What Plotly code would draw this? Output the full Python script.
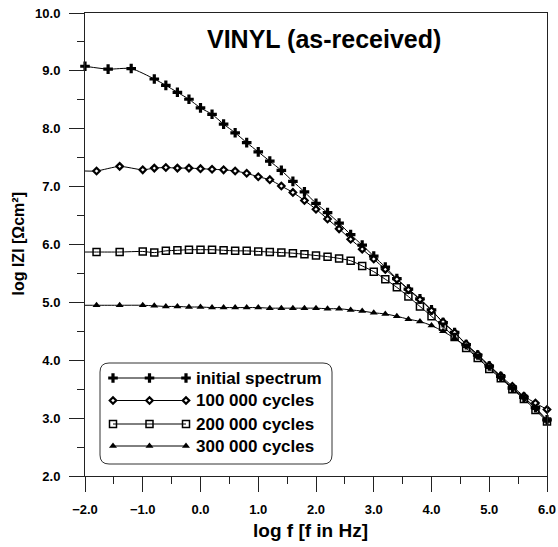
import plotly.graph_objects as go

# ---------------- data ----------------
tail_x = [-0.8, -0.6, -0.4, -0.2, 0.0, 0.2, 0.4, 0.6, 0.8, 1.0, 1.2, 1.4, 1.6, 1.8,
          2.0, 2.2, 2.4, 2.6, 2.8, 3.0, 3.2, 3.4, 3.6, 3.8, 4.0, 4.2, 4.4, 4.6, 4.8,
          5.0, 5.2, 5.4, 5.6, 5.8, 6.0]
x_initial = [-2.0, -1.6, -1.2] + tail_x
x_cycles = [-2.0, -1.8, -1.4, -1.0] + tail_x

y_initial = [9.08, 9.03, 9.04,
             8.86, 8.75, 8.63, 8.51, 8.36, 8.25, 8.08, 7.93, 7.76, 7.60, 7.44, 7.28, 7.09, 6.91,
             6.71, 6.55, 6.37, 6.17, 5.99, 5.80, 5.61, 5.41, 5.23, 5.06, 4.87, 4.65, 4.48, 4.27, 4.09,
             3.90, 3.72, 3.52, 3.36, 3.18, 2.97]
y_100k = [7.27, 7.27, 7.35, 7.29,
          7.32, 7.33, 7.32, 7.32, 7.31, 7.30, 7.29, 7.27, 7.23, 7.17, 7.12, 7.01, 6.90, 6.76,
          6.61, 6.44, 6.27, 6.09, 5.92, 5.75, 5.57, 5.40, 5.22, 5.05, 4.86, 4.66, 4.48, 4.28, 4.10,
          3.91, 3.73, 3.55, 3.38, 3.26, 3.15]
y_200k = [5.87, 5.87, 5.87, 5.88,
          5.86, 5.89, 5.90, 5.91, 5.91, 5.91, 5.90, 5.89, 5.89, 5.88, 5.87, 5.86, 5.85, 5.83,
          5.81, 5.79, 5.76, 5.72, 5.63, 5.53, 5.40, 5.26, 5.10, 4.93, 4.76, 4.58, 4.40, 4.21, 4.04,
          3.85, 3.69, 3.50, 3.33, 3.14, 2.94]
y_300k = [4.95, 4.95, 4.95, 4.95,
          4.94, 4.93, 4.93, 4.92, 4.92, 4.91, 4.91, 4.91, 4.91, 4.91, 4.90, 4.90, 4.90, 4.90,
          4.90, 4.89, 4.89, 4.87, 4.85, 4.82, 4.80, 4.76, 4.71, 4.67, 4.60, 4.50, 4.38, 4.24, 4.06,
          3.88, 3.70, 3.52, 3.35, 3.17, 2.95]

series_names = ["initial spectrum", "100 000 cycles", "200 000 cycles", "300 000 cycles"]
x_ticks = [-2.0, -1.0, 0.0, 1.0, 2.0, 3.0, 4.0, 5.0, 6.0]
y_ticks = [2.0, 3.0, 4.0, 5.0, 6.0, 7.0, 8.0, 9.0, 10.0]
title_text = "VINYL (as-received)"
x_title = "log f [f in Hz]"
y_title = "log IZI [Ωcm²]"

# ---------------- styles ----------------
FONT = "Liberation Sans, Arial, sans-serif"
styles = [
    dict(symbol="cross", size=8, color="black", line=dict(width=0)),
    dict(symbol="diamond", size=5, color="white", line=dict(width=2.2, color="black")),
    dict(symbol="square-open", size=7, color="black", line=dict(width=1.5)),
    dict(symbol="triangle-up", size=7, color="black", line=dict(width=0)),
]
xs = [x_initial, x_cycles, x_cycles, x_cycles]
ys = [y_initial, y_100k, y_200k, y_300k]

fig = go.Figure()
for i, (xv, yv) in enumerate(zip(xs, ys)):
    # first point of the cycle series carries no marker
    op = [1.0] * len(xv)
    if i > 0:
        op[0] = 0.0
    m = dict(styles[i])
    m["opacity"] = op
    fig.add_trace(go.Scatter(x=xv, y=yv, mode="lines+markers", name=series_names[i],
                             line=dict(color="black", width=1, shape="spline", smoothing=0.6),
                             marker=m, showlegend=False, cliponaxis=False))

# ---------------- page geometry ----------------
W, H = 558, 547
PX0, PX1, PY0, PY1 = 85, 547, 13, 476          # plot area on screen
L, R, T, B = PX0, W - PX1, PY0, H - PY1

# ---------------- custom legend (overlay axis in screen-pixel units) ----------------
lx0, lx1, ly0, ly1, rr = 100, 332, 363, 464, 9
fig.add_shape(type="path", xref="x2", yref="y2",
              path=(f"M {lx0+rr},{ly0} L {lx1-rr},{ly0} Q {lx1},{ly0} {lx1},{ly0+rr} "
                    f"L {lx1},{ly1-rr} Q {lx1},{ly1} {lx1-rr},{ly1} L {lx0+rr},{ly1} "
                    f"Q {lx0},{ly1} {lx0},{ly1-rr} L {lx0},{ly0+rr} Q {lx0},{ly0} {lx0+rr},{ly0} Z"),
              line=dict(color="#333", width=1), fillcolor="white", layer="below")
rows = [378, 400.5, 424, 446]
for i, name in enumerate(series_names):
    m = dict(styles[i])
    fig.add_trace(go.Scatter(x=[113, 149.5, 186], y=[rows[i]] * 3, mode="lines+markers",
                             xaxis="x2", yaxis="y2", line=dict(color="black", width=1),
                             marker=m, showlegend=False, hoverinfo="skip"))
    fig.add_annotation(x=194, y=rows[i], xref="x2", yref="y2", text=name, showarrow=False,
                       xanchor="left", yanchor="middle",
                       font=dict(family=FONT, size=17, color="black", weight="bold"))

axis_common = dict(showline=True, mirror=True, linecolor="#222", linewidth=1,
                   ticks="outside", ticklen=15, tickwidth=1, tickcolor="#222",
                   showgrid=False, zeroline=False, tickformat=".1f", automargin=False,
                   ticklabeloverflow="allow",
                   tickfont=dict(family=FONT, size=13, color="black", weight="bold"),
                   ticklabelstandoff=6)

fig.update_layout(
    width=W, height=H,
    margin=dict(l=L, r=R, t=T, b=B, autoexpand=False),
    paper_bgcolor="white", plot_bgcolor="white",
    showlegend=False,
    xaxis=dict(range=[-2, 6], tickvals=x_ticks,
               minor=dict(dtick=0.5, tick0=-2, ticks="outside", ticklen=7, tickcolor="#222"),
               **axis_common),
    yaxis=dict(range=[2, 10], tickvals=y_ticks,
               minor=dict(dtick=0.5, tick0=2, ticks="outside", ticklen=7, tickcolor="#222"),
               **axis_common),
    xaxis2=dict(overlaying="x", range=[PX0, PX1], visible=False, anchor="y2", fixedrange=True),
    yaxis2=dict(overlaying="y", range=[PY1, PY0], visible=False, anchor="x2", fixedrange=True),
)

fig.add_annotation(x=0.518, y=0.943, xref="paper", yref="paper", text=title_text,
                   showarrow=False, xanchor="center", yanchor="middle",
                   font=dict(family=FONT, size=25, color="black", weight="bold"))
fig.add_annotation(x=0.489, y=-0.117, xref="paper", yref="paper", text=x_title,
                   showarrow=False, xanchor="center", yanchor="middle",
                   font=dict(family=FONT, size=19, color="black", weight="bold"))
fig.add_annotation(x=-0.145, y=0.5, xref="paper", yref="paper", text=y_title,
                   showarrow=False, xanchor="center", yanchor="middle", textangle=-90,
                   font=dict(family=FONT, size=16, color="black", weight="bold"))

# remove the default page margin so the figure sits at the window's corner
fig.write_html("out.html", config={"displayModeBar": False},
               post_script="document.body.style.margin='0';")
